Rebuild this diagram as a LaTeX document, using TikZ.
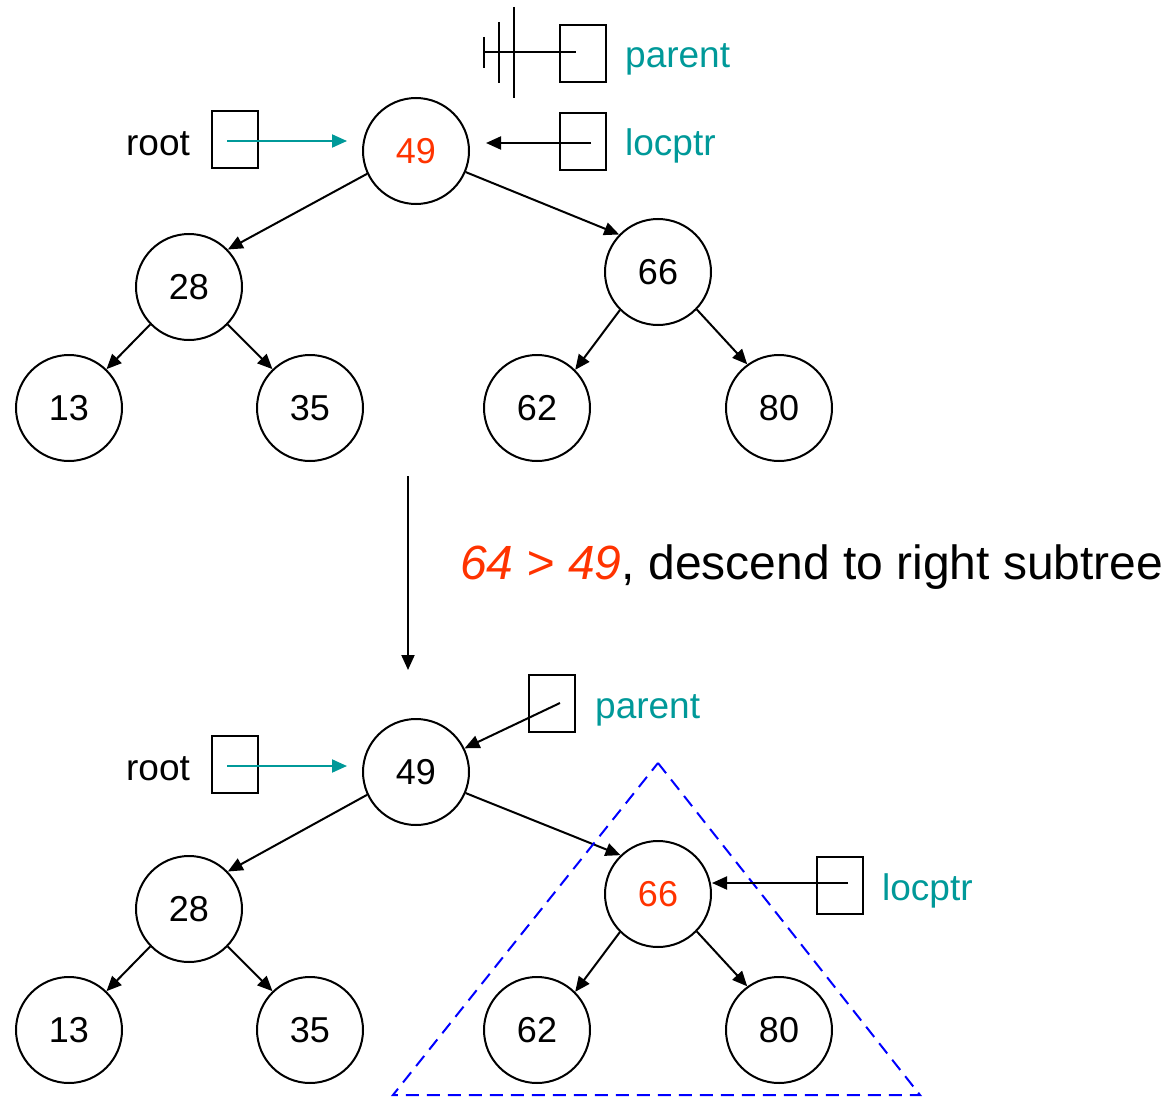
\documentclass[tikz,border=0pt]{standalone}
\usepackage{fontspec}
\setmainfont{Liberation Sans}
\usetikzlibrary{arrows.meta}
\definecolor{tealtxt}{RGB}{0,153,153}
\definecolor{hot}{RGB}{255,51,0}
\definecolor{tri}{RGB}{0,0,255}
\tikzset{
  key/.style={circle,draw,line width=2pt,minimum size=106pt,inner sep=0pt,
    font=\fontsize{36}{40}\selectfont},
  ptrbox/.style={draw,line width=2pt,minimum width=46pt,minimum height=57pt,inner sep=0pt},
  lbl/.style={font=\fontsize{37}{42}\selectfont,inner sep=0pt},
  tlbl/.style={lbl,text=tealtxt,anchor=west},
  edge/.style={line width=2pt,-{Triangle[length=15pt,width=13pt]}},
  tedge/.style={line width=2pt,draw=tealtxt,-{Triangle[length=15pt,width=13pt,fill=tealtxt]}},
}
\begin{document}
\begin{tikzpicture}[x=1pt,y=-1pt]
\useasboundingbox (0,0) rectangle (1170,1097);

% ---------- tree before the step ----------
\node[key,text=hot] (a49) at (416,151) {49};
\node[key] (a28) at (189,287) {28};
\node[key] (a66) at (658,272) {66};
\node[key] (a13) at (69,408) {13};
\node[key] (a35) at (310,408) {35};
\node[key] (a62) at (537,408) {62};
\node[key] (a80) at (779,408) {80};
\draw[edge] (a49.205) -- (a28.44);
\draw[edge] (a49.-23) -- (a66.136);
\draw[edge] (a28.224) -- (a13.46);
\draw[edge] (a28.-44) -- (a35.134);
\draw[edge] (a66.225) -- (a62.45);
\draw[edge] (a66.-44) -- (a80.126);

% root pointer
\node[lbl] (aroot) at (158,144) {root};
\node[ptrbox] (arootbox) at (235,139.5) {};
\coordinate (arS) at (227,141);
\path (a49.west) ++(-15,0) coordinate (arT);
\draw[tedge] (arS) -- (arT |- arS);

% parent pointer (null)
\node[ptrbox] (aparbox) at (582.5,53.5) {};
\node[tlbl] (apar) at (625,59) {parent};
\coordinate (gnd) at (484,52);
\draw[line width=2pt] (gnd) -- (gnd -| 576,0);
\draw[line width=2pt] (484,37) -- (484,68);
\draw[line width=2pt] (499,22) -- (499,83);
\draw[line width=2pt] (514,7) -- (514,98);

% locptr pointer
\node[ptrbox] (alocbox) at (582.5,141.5) {};
\node[tlbl] (aloc) at (625,146) {locptr};
\coordinate (alS) at (591,143);
\path (a49.east) ++(16,0) coordinate (alT);
\draw[edge] (alS) -- (alT |- alS);

% ---------- step ----------
\coordinate (stepS) at (408,476);
\coordinate (stepE) at (408,670);
\draw[edge] (stepS) -- (stepE);
\node[anchor=west,inner sep=0pt,font=\fontsize{48}{54}\selectfont] (why) at (460,567)
  {{\color{hot}\itshape 64 > 49}, descend to right subtree};

% ---------- tree after the step ----------
\node[key] (b49) at (416,772) {49};
\node[key] (b28) at (189,909) {28};
\node[key,text=hot] (b66) at (658,894) {66};
\node[key] (b13) at (69,1030) {13};
\node[key] (b35) at (310,1030) {35};
\node[key] (b62) at (537,1030) {62};
\node[key] (b80) at (779,1030) {80};
\draw[edge] (b49.205) -- (b28.44);
\draw[edge] (b49.-23) -- (b66.134);
\draw[edge] (b28.224) -- (b13.46);
\draw[edge] (b28.-44) -- (b35.134);
\draw[edge] (b66.225) -- (b62.45);
\draw[edge] (b66.-44) -- (b80.126);

% right subtree outline
\draw[tri,line width=2pt,dash pattern=on 13pt off 8pt]
  (658,763) -- (920,1095) -- (393,1095) -- cycle;

% root pointer
\node[lbl] (broot) at (158,769) {root};
\node[ptrbox] (brootbox) at (235,764) {};
\coordinate (brS) at (227,766);
\path (b49.west) ++(-15,0) coordinate (brT);
\draw[tedge] (brS) -- (brT |- brS);

% parent pointer
\node[ptrbox] (bparbox) at (552,703.5) {};
\node[tlbl] (bpar) at (595,710) {parent};
\coordinate (bpS) at (560,703);
\draw[edge] (bpS) -- (b49.26);

% locptr pointer
\node[ptrbox] (blocbox) at (840,885.5) {};
\node[tlbl] (bloc) at (882,891) {locptr};
\coordinate (blS) at (848,883);
\draw[edge] (blS) -- (b66.east |- blS);
\end{tikzpicture}
\end{document}
